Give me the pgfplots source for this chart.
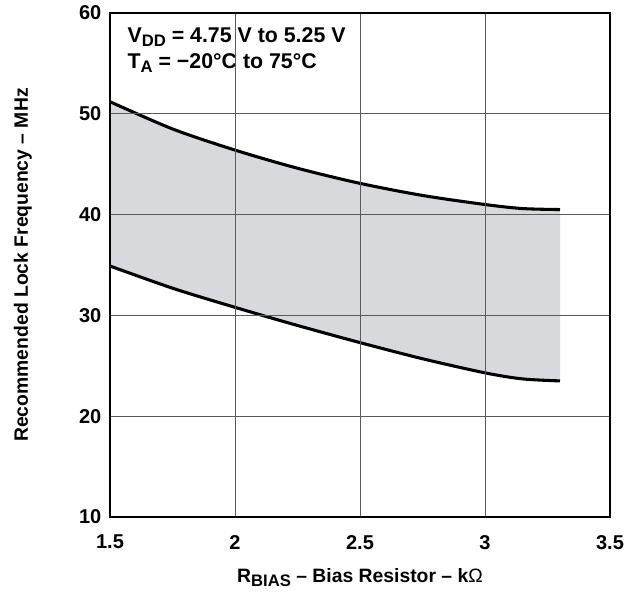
\documentclass[border=0pt]{standalone}
\usepackage{pgfplots}
\pgfplotsset{compat=1.18}
\usepgfplotslibrary{fillbetween}
\usepackage{fontspec}
\setmainfont{Liberation Sans}
\definecolor{bandgray}{RGB}{216,217,221}
\definecolor{gridgray}{RGB}{90,90,90}
\newcommand{\lowsub}[1]{\raisebox{-3pt}{\fontsize{12.5}{14}\selectfont #1}}
\begin{document}
\begin{tikzpicture}
\begin{axis}[
    at={(0,0)}, anchor=south west,
    scale only axis,
    width=375pt, height=378pt,
    xmin=1.5, xmax=3.5,
    ymin=10, ymax=60,
    xtick={1.5,2,2.5,3,3.5},
    ytick={10,20,30,40,50,60},
    xticklabels={1.5,2,2.5,3,3.5},
    yticklabels={10,20,30,40,50,60},
    tick style={draw=none},
    xmajorgrids=true, ymajorgrids=true,
    grid style={gridgray, line width=0.65pt},
    axis line style={black, line width=1.6pt},
    axis on top,
    tick label style={font=\fontsize{15}{18}\selectfont\bfseries},
    xticklabel style={yshift=-10pt},
    yticklabel style={xshift=-3pt},
    label style={font=\fontsize{14.5}{17}\selectfont\bfseries},
    xlabel={R\lowsub{BIAS} -- Bias Resistor -- k\textmd{Ω}},
    ylabel={Recommended Lock Frequency -- MHz},
    xlabel style={at={(axis description cs:0.5,-0.121)}, anchor=center},
    ylabel style={at={(axis description cs:-0.174,0.5)}, anchor=center},
]
\addplot[name path=upper, black, line width=2.3pt, smooth] coordinates {
  (1.5,51.2)(1.75,48.5)(2,46.4)(2.25,44.6)(2.5,43.1)(2.75,41.9)(3,41.0)(3.15,40.6)(3.3,40.5)};
\addplot[name path=lower, black, line width=2.3pt, smooth] coordinates {
  (1.5,34.9)(1.75,32.7)(2,30.8)(2.25,29.0)(2.5,27.3)(2.75,25.7)(3,24.3)(3.15,23.7)(3.3,23.5)};
\addplot[bandgray, draw=none] fill between[of=upper and lower];
\coordinate (ann) at (rel axis cs:0.024,0.984);
\end{axis}
% conditions box, white behind it so the grid stops there
\node[anchor=north west, align=left, fill=white, inner xsep=4pt, inner ysep=5pt,
      font=\fontsize{16}{19}\selectfont\bfseries]
  at (ann)
  {V\lowsub{DD} = 4.75 V to 5.25 V\\
   T\lowsub{A} = \textminus20\textdegree C to 75\textdegree C};
% white margins as in the reference (0.75pt per pixel)
\path (-82.5pt,-51.75pt) rectangle (389.25pt,387.75pt);
\end{tikzpicture}
\end{document}
